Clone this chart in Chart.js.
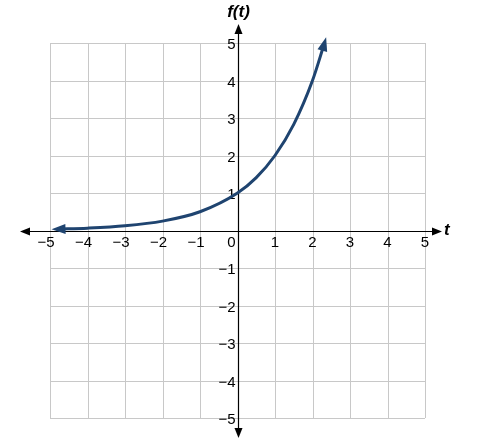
<!DOCTYPE html>
<html><head><meta charset="utf-8">
<script src="https://cdn.jsdelivr.net/npm/chart.js@4/dist/chart.umd.min.js"></script>
<style>html,body{margin:0;background:#fff}#wrap{width:487px;height:442px}</style>
</head><body><div id="wrap"><canvas id="c"></canvas></div>
<script>
const tValues = [-4.8, -4, -3, -2, -1, 0, 0.5, 1, 1.5, 2, 2.32];
const fValues = [0.036, 0.0625, 0.125, 0.25, 0.5, 1, 1.41, 2, 2.83, 4, 5];
const ticks = [-5, -4, -3, -2, -1, 0, 1, 2, 3, 4, 5];
const curveColor = "#1f4470";
const label = (v) => (v < 0 ? "\u2212" + Math.abs(v) : String(v));

const axesPlugin = {
    id: "axes",
    beforeDatasetsDraw(chart) {
        const { ctx, scales: { x, y } } = chart;
        ctx.save();
        ctx.strokeStyle = "#c8c8c8";
        ctx.lineWidth = 1;
        ticks.forEach((v) => {
            const px = Math.round(x.getPixelForValue(v)) + 0.5;
            const py = Math.round(y.getPixelForValue(v)) + 0.5;
            ctx.beginPath(); ctx.moveTo(px, y.getPixelForValue(5)); ctx.lineTo(px, y.getPixelForValue(-5)); ctx.stroke();
            ctx.beginPath(); ctx.moveTo(x.getPixelForValue(-5), py); ctx.lineTo(x.getPixelForValue(5), py); ctx.stroke();
        });
        const x0 = Math.round(x.getPixelForValue(0)) + 0.5;
        const y0 = Math.round(y.getPixelForValue(0)) + 0.5;
        ctx.strokeStyle = "#000"; ctx.fillStyle = "#000"; ctx.lineWidth = 1.2;
        ctx.beginPath(); ctx.moveTo(26, y0); ctx.lineTo(436, y0); ctx.stroke();
        ctx.beginPath(); ctx.moveTo(x0, 30); ctx.lineTo(x0, 432); ctx.stroke();
        const tri = (ax, ay, dx, dy) => {
            ctx.beginPath();
            ctx.moveTo(ax, ay);
            ctx.lineTo(ax - dx * 10 - dy * 4, ay - dy * 10 + dx * 4);
            ctx.lineTo(ax - dx * 10 + dy * 4, ay - dy * 10 - dx * 4);
            ctx.closePath(); ctx.fill();
        };
        tri(20, y0, -1, 0); tri(442, y0, 1, 0); tri(x0, 24, 0, -1); tri(x0, 438, 0, 1);
        ctx.font = "15px 'Liberation Sans', Arial, sans-serif";
        ctx.textAlign = "center"; ctx.textBaseline = "top";
        ticks.forEach((v) => ctx.fillText(label(v), x.getPixelForValue(v) - (v === 0 ? 6 : v < 0 ? 4 : 0), y0 + 4));
        ctx.textAlign = "right"; ctx.textBaseline = "middle";
        ticks.forEach((v) => { if (v !== 0) ctx.fillText(label(v), x0 - 3, y.getPixelForValue(v) + 2); });
        ctx.font = "italic bold 17px 'Liberation Sans', Arial, sans-serif";
        ctx.textAlign = "center";
        ctx.fillText("f(t)", x0, 12);
        ctx.textAlign = "left";
        ctx.fillText("t", 444, y0 - 1);
        ctx.restore();
    },
    afterDatasetsDraw(chart) {
        const { ctx, scales: { x, y } } = chart;
        const pts = tValues.map((t, i) => [x.getPixelForValue(t), y.getPixelForValue(fValues[i])]);
        ctx.save(); ctx.fillStyle = curveColor;
        const head = (a, b) => {
            const dx = a[0] - b[0], dy = a[1] - b[1], l = Math.hypot(dx, dy);
            const ux = dx / l, uy = dy / l;
            ctx.beginPath();
            ctx.moveTo(a[0] + ux * 6, a[1] + uy * 6);
            ctx.lineTo(a[0] - ux * 8 - uy * 5, a[1] - uy * 8 + ux * 5);
            ctx.lineTo(a[0] - ux * 8 + uy * 5, a[1] - uy * 8 - ux * 5);
            ctx.closePath(); ctx.fill();
        };
        head(pts[0], pts[1]);
        const n = pts.length;
        head(pts[n - 1], [x.getPixelForValue(2.25), y.getPixelForValue(4.75)]);
        ctx.restore();
    }
};

new Chart(document.getElementById("c"), {
    type: "scatter",
    data: {
        datasets: [{
            data: tValues.map((t, i) => ({ x: t, y: fValues[i] })),
            showLine: true,
            borderColor: curveColor,
            borderWidth: 3,
            pointRadius: 0,
            cubicInterpolationMode: "monotone",
        }],
    },
    options: {
        responsive: true,
        maintainAspectRatio: false,
        animation: false,
        layout: { padding: { left: 50, right: 62, top: 43, bottom: 24 } },
        plugins: { legend: { display: false }, tooltip: { enabled: false } },
        scales: {
            x: { type: "linear", min: -5, max: 5, display: false },
            y: { type: "linear", min: -5, max: 5, display: false },
        },
    },
    plugins: [axesPlugin],
});
</script></body></html>
